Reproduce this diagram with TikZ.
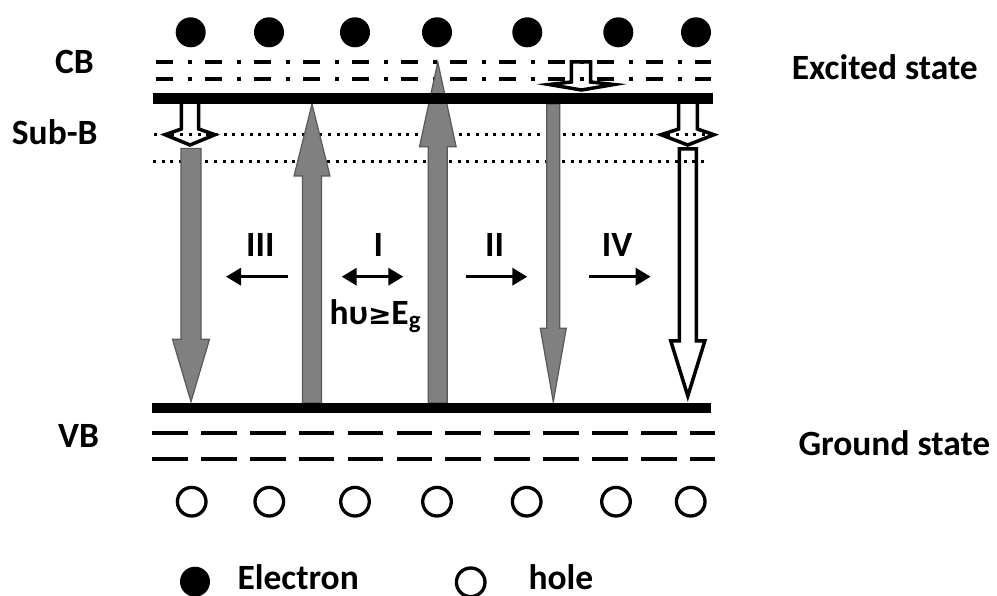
\documentclass[tikz,border=0pt]{standalone}
\usepackage{fontspec}
\setmainfont{Carlito}
\newfontfamily\symfnt{DejaVu Sans}
\usetikzlibrary{arrows.meta}
\newcommand\blkarrow[7]{%
  \draw[#7] ({#1-#2},#4) -- ({#1-#2},#5) -- ({#1-#3},#5) -- (#1,#6) -- ({#1+#3},#5) -- ({#1+#2},#5) -- ({#1+#2},#4) -- cycle;}
\begin{document}
\begin{tikzpicture}[x=1pt,y=-1pt,
  lbl/.style={font=\bfseries\fontsize{35.5}{40}\selectfont, inner sep=0pt, anchor=base west},
  dashdotline/.style={line width=4pt, dash pattern=on 17pt off 15pt on 4pt off 13pt},
  dotline/.style={line width=3pt, dash pattern=on 3pt off 5.7pt},
  dashline/.style={line width=4pt, dash pattern=on 35.7pt off 13.2pt},
  bar/.style={line width=11pt},
  grayarr/.style={fill=gray, draw=black!65, line width=1.2pt, line join=miter},
  openarr/.style={draw=black, line width=3.5pt, line join=miter},
  smallarr/.style={line width=3.3pt, -{Triangle[length=15pt,width=17pt]}},
  smallarrb/.style={line width=3.3pt, {Triangle[length=15pt,width=17pt]}-{Triangle[length=15pt,width=17pt]}},
  electron/.style={circle, fill=black, minimum size=30pt, inner sep=0pt},
  hole/.style={circle, draw=black, line width=3.3pt, minimum size=28.6pt, inner sep=0pt}
]
\useasboundingbox (0,0) rectangle (997,596);

% level lines
\coordinate (cd1a) at (156,62); \coordinate (cd1b) at (711,62);
\coordinate (cd2a) at (156,78.7); \coordinate (cd2b) at (711,78.7);
\draw[dashdotline] (cd1a) -- (cd1b);
\draw[dashdotline] (cd2a) -- (cd2b);
\coordinate (sd1a) at (154,134.7); \coordinate (sd1b) at (710,134.7);
\coordinate (sd2a) at (153,162); \coordinate (sd2b) at (707,162);
\draw[dotline] (sd1a) -- (sd1b);
\draw[dotline] (sd2a) -- (sd2b);
\coordinate (vd1a) at (152,432.7); \coordinate (vd1b) at (715,432.7);
\coordinate (vd2a) at (152,459.3); \coordinate (vd2b) at (715,459.3);
\draw[dashline] (vd1a) -- (vd1b);
\draw[dashline] (vd2a) -- (vd2b);

% block arrows
\blkarrow{191}{10}{18.5}{148.5}{339.3}{401.7}{grayarr}
\blkarrow{312}{9.5}{18}{403}{176}{104}{grayarr}
\blkarrow{437.8}{9.5}{18.3}{403}{146.7}{62}{grayarr}
\blkarrow{553.3}{6.5}{13}{104}{328.3}{401.7}{grayarr}
\blkarrow{687.8}{8.5}{17}{149}{341}{396}{openarr}

% short open arrows
\draw[openarr] (181.3,100) -- (181.3,129) -- (165,134.7) -- (190,145) -- (215,134.7) -- (198.7,129) -- (198.7,100);
\draw[openarr] (678.7,100) -- (678.7,129) -- (661,134.7) -- (687.7,145) -- (714,134.7) -- (697.3,129) -- (697.3,100);
\draw[openarr] (571.3,62) -- (571.3,82) -- (549,84.5) -- (581.5,90) -- (614,84.5) -- (590.7,82) -- (590.7,62) -- cycle;

% bars
\coordinate (cba) at (153.3,98.3); \coordinate (cbb) at (713,98.3);
\coordinate (vba) at (151.7,407.7); \coordinate (vbb) at (710.7,407.7);
\draw[bar] (cba) -- (cbb);
\draw[bar, line width=10pt] (vba) -- (vbb);

% electrons and holes
\foreach \x [count=\i] in {190.7,269,355,437,527.3,618.3,696}
  \node[electron] (e\i) at (\x,32.3) {};
\foreach \x [count=\i] in {191.7,269.3,355,437,526.7,616,690.7}
  \node[hole] (h\i) at (\x,501.7) {};

% small direction arrows
\coordinate (a3s) at (288.3,276.7); \coordinate (a3e) at (226,276.7);
\coordinate (a1s) at (341.7,276.7); \coordinate (a1e) at (403.3,276.7);
\coordinate (a2s) at (466,276.7); \coordinate (a2e) at (527.3,276.7);
\coordinate (a4s) at (589,276.7); \coordinate (a4e) at (650.7,276.7);
\draw[smallarr] (a3s) -- (a3e);
\draw[smallarrb] (a1s) -- (a1e);
\draw[smallarr] (a2s) -- (a2e);
\draw[smallarr] (a4s) -- (a4e);

% labels
\node[lbl] (cb) at (55,73.3) {CB};
\node[lbl] (subb) at (11.7,145) {Sub-B};
\node[lbl] (vb) at (58,447) {VB};
\node[lbl] (exc) at (791.7,79.3) {Excited state};
\node[lbl] (gnd) at (798.3,455) {Ground state};
\node[lbl] (l3) at (246,256.7) {III};
\node[lbl] (l1) at (373.3,256.7) {I};
\node[lbl] (l2) at (485,256.7) {II};
\node[lbl] (l4) at (601.7,256.7) {IV};
\node[lbl] (hv) at (329.3,325) {hυ{\symfnt\fontsize{28}{30}\selectfont ≥}E\textsubscript{g}};

% legend
\node[electron] (le) at (195,581.7) {};
\node[lbl] (let) at (237.3,589) {Electron};
\node[hole] (lh) at (470.7,582.3) {};
\node[lbl] (lht) at (528.3,589) {hole};
\end{tikzpicture}
\end{document}
